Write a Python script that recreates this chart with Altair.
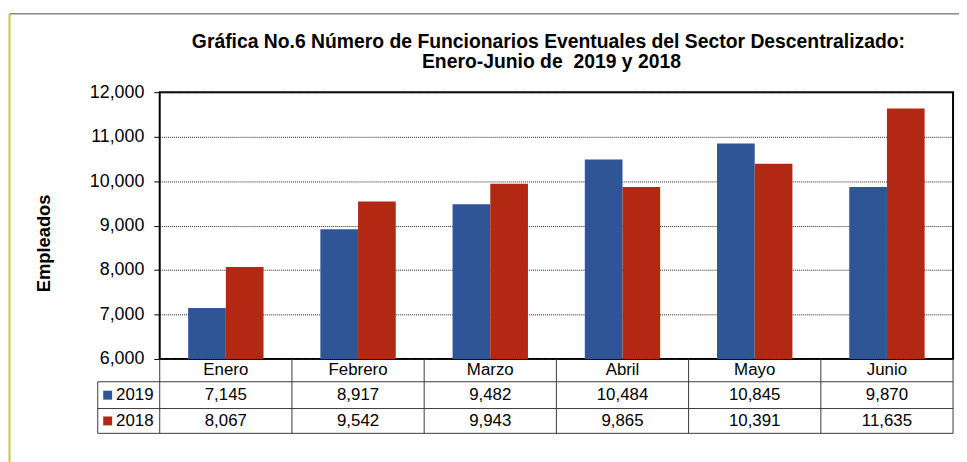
import altair as alt
import pandas as pd

months = ["Enero", "Febrero", "Marzo", "Abril", "Mayo", "Junio"]
years = ["2019", "2018"]
v2019 = [7145, 8917, 9482, 10484, 10845, 9870]
v2018 = [8067, 9542, 9943, 9865, 10391, 11635]
y_ticks = [6000, 7000, 8000, 9000, 10000, 11000, 12000]
colors = ["#2F5597", "#B22813"]
title_lines = [
    "Gráfica No.6 Número de Funcionarios Eventuales del Sector Descentralizado:",
    "Enero-Junio de \u00a02019 y 2018",
]

df = pd.DataFrame({
    "month": months * 2,
    "year": [years[0]] * len(months) + [years[1]] * len(months),
    "value": v2019 + v2018,
})

FONT = "Liberation Sans"
W, H = 800, 269
LINE = "#3a3a3a"
TXT = 17

x_scale = alt.Scale(paddingInner=0, paddingOuter=0)
x_enc = alt.X("month:N", sort=months, scale=x_scale, axis=None)
color_enc = alt.Color("year:N", scale=alt.Scale(domain=years, range=colors), legend=None)

base = alt.Chart(df)

bars = base.mark_bar().encode(
    x=x_enc,
    xOffset=alt.XOffset("year:N", sort=years,
                        scale=alt.Scale(paddingOuter=0.754, paddingInner=0)),
    y=alt.Y("value:Q",
            scale=alt.Scale(domain=[y_ticks[0], y_ticks[-1]], nice=False, zero=False),
            axis=alt.Axis(values=y_ticks, format=",.0f", labelFont=FONT, labelFontSize=18,
                          labelColor="black", labelPadding=10, tickColor="black",
                          tickSize=6, domain=False, gridColor="#222222", gridDash=[1, 1],
                          gridWidth=1, title="Empleados", titleFont=FONT,
                          titleFontSize=18.5, titleFontWeight="bold", titleColor="black",
                          titleX=-117, titleY=152, titleAlign="center",
                          titleBaseline="middle")),
    y2=alt.datum(y_ticks[0]),
    color=color_enc,
)

one_year = base.transform_filter(alt.datum.year == years[0])

header = one_year.mark_text(font=FONT, fontSize=TXT, color="black", baseline="middle").encode(
    x=x_enc, y=alt.value(280.5), text="month:N")

row_y = {years[0]: 305.5, years[1]: 331.5}
value_rows = []
legend_marks = []
for yr in years:
    sub = base.transform_filter(alt.datum.year == yr)
    value_rows.append(sub.mark_text(font=FONT, fontSize=TXT, color="black",
                                    baseline="middle").encode(
        x=x_enc, y=alt.value(row_y[yr]), text=alt.Text("value:Q", format=",.0f")))
    first = sub.transform_filter(alt.datum.month == months[0])
    legend_marks.append(first.mark_square(size=81, opacity=1).encode(
        x=alt.value(-52.5), y=alt.value(row_y[yr]), color=color_enc))
    legend_marks.append(first.mark_text(font=FONT, fontSize=TXT, color="black",
                                        baseline="middle", align="left").encode(
        x=alt.value(-44), y=alt.value(row_y[yr]), text="year:N"))

vlines = one_year.mark_rule(color=LINE, strokeWidth=1).encode(
    x=alt.X("month:N", sort=months, scale=x_scale, axis=None, bandPosition=0),
    y=alt.value(269), y2=alt.value(344))

one = alt.Chart(alt.Data(values=[{"k": 0}]))
right_line = one.mark_rule(color=LINE, strokeWidth=1).encode(
    x=alt.value(800), y=alt.value(269), y2=alt.value(344))
left_line = one.mark_rule(color=LINE, strokeWidth=1).encode(
    x=alt.value(-62.5), y=alt.value(292), y2=alt.value(344))
hlines = [one.mark_rule(color=LINE, strokeWidth=1).encode(
    x=alt.value(-62.5), x2=alt.value(800), y=alt.value(yv)) for yv in (292, 319, 344)]

frame_top = one.mark_rule(color="#4b4b3c", strokeWidth=1).encode(
    x=alt.value(-151.5), x2=alt.value(810), y=alt.value(-79))
frame_left = one.mark_rule(color="#c9c93a", strokeWidth=2).encode(
    x=alt.value(-151.5), y=alt.value(-79), y2=alt.value(380))

title_marks = [
    one.mark_text(font=FONT, fontSize=19.5, fontWeight="bold", color="black",
                  align="center", baseline="alphabetic").encode(
        x=alt.value(xv), y=alt.value(yv), text=alt.value(txt))
    for txt, xv, yv in zip(title_lines, (392, 395), (-45, -24))
]

chart = alt.layer(
    frame_top, frame_left, bars, header, *value_rows, vlines, right_line, left_line,
    *hlines, *legend_marks, *title_marks,
).properties(
    width=W, height=H,
    padding={"left": 153, "top": 83, "right": 6, "bottom": 102},
    autosize=alt.AutoSizeParams(type="none"),
).configure_view(stroke="black", strokeWidth=2)

chart.save("out.html", embed_options={"renderer": "svg", "actions": False})
